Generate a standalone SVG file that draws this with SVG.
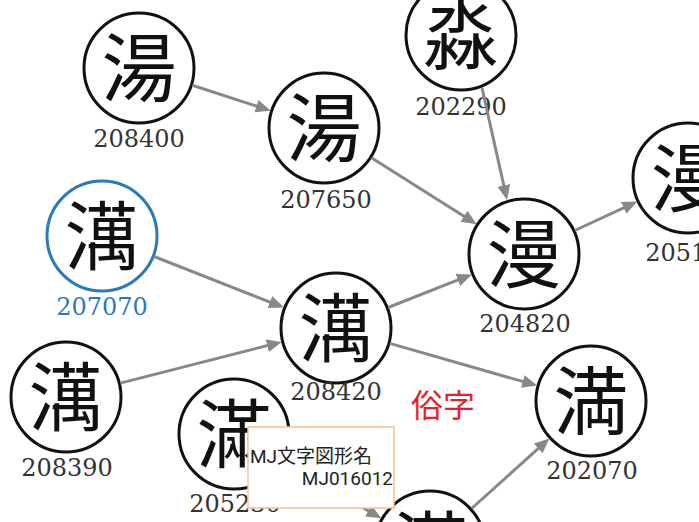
<svg xmlns="http://www.w3.org/2000/svg" width="699" height="522" viewBox="0 0 699 522">
<style>
.c{fill:#fff;stroke:#111;stroke-width:3}
.cb{fill:#fff;stroke:#2a7ab8;stroke-width:3}
.g{font-family:"Noto Sans CJK JP","Noto Sans CJK SC",sans-serif;font-size:75px;fill:#111;text-anchor:middle}
.l{font-family:"DejaVu Serif","Liberation Serif",serif;font-size:24px;fill:#333;text-anchor:middle}
.lb{fill:#2a7ab8}
.e{stroke:#888;stroke-width:3;fill:none;marker-end:url(#ah)}
.t{font-family:Roboto,"Noto Sans CJK JP",sans-serif;font-size:19px;fill:#222}
</style>
<defs>
<marker id="ah" markerUnits="userSpaceOnUse" markerWidth="16" markerHeight="14" refX="7" refY="6.5" orient="auto">
<path d="M0,0 L15,6.5 L0,13 z" fill="#888"/>
</marker>
</defs>
<rect width="699" height="522" fill="#fff"/>
<g id="nodes">
<g id="n208400"><circle class="c" cx="139" cy="68" r="55"/><text class="g" x="139" y="96">湯</text><text class="l" x="139" y="147">208400</text></g>
<g id="n207650"><circle class="c" cx="324" cy="128" r="55"/><text class="g" x="324" y="156">湯</text><text class="l" x="326" y="208">207650</text></g>
<g id="n202290"><circle class="c" cx="461" cy="35" r="55"/><text class="g" x="461" y="63">淼</text><text class="l" x="461" y="115">202290</text></g>
<g id="n204820"><circle class="c" cx="524" cy="254" r="55"/><text class="g" x="524" y="282">漫</text><text class="l" x="525" y="332">204820</text></g>
<g id="n205140"><circle class="c" cx="688" cy="178" r="55"/><text class="g" x="688" y="206">漫</text><text class="l" x="691" y="261">205140</text></g>
<g id="n207070"><circle class="cb" cx="102" cy="236" r="55"/><text class="g" x="102" y="264">澫</text><text class="l lb" x="102" y="315">207070</text></g>
<g id="n208420"><circle class="c" cx="336" cy="328" r="55"/><text class="g" x="336" y="356">澫</text><text class="l" x="336" y="400">208420</text></g>
<g id="n208390"><circle class="c" cx="66" cy="397" r="55"/><text class="g" x="66" y="425">澫</text><text class="l" x="67" y="476">208390</text></g>
<g id="n205230"><circle class="c" cx="234" cy="434" r="55"/><text class="g" x="234" y="462">滿</text><text class="l" x="235" y="512">205230</text></g>
<g id="n202070"><circle class="c" cx="591" cy="401" r="55"/><text class="g" x="591" y="429">満</text><text class="l" x="592" y="479">202070</text></g>
<g id="nbottom"><circle class="c" cx="430" cy="546" r="55"/><text class="g" x="430" y="574">滿</text></g>
</g>
<g id="connectors">
<line class="e" x1="192.3" y1="85.2" x2="263.1" y2="108.3"/>
<line class="e" x1="482" y1="88" x2="505.3" y2="192.2"/>
<line class="e" x1="371.4" y1="157.8" x2="469.9" y2="219.9"/>
<line class="e" x1="574.8" y1="230.5" x2="630" y2="204.9"/>
<line class="e" x1="154.1" y1="256.5" x2="276.4" y2="304.6"/>
<line class="e" x1="120.3" y1="383.1" x2="274" y2="343.9"/>
<line class="e" x1="388.1" y1="307.5" x2="464.4" y2="277.4"/>
<line class="e" x1="389.8" y1="343.4" x2="529.5" y2="383.4"/>
<line class="e" x1="471.6" y1="508.5" x2="543.4" y2="443.8"/>
<line class="e" x1="282.6" y1="461.8" x2="374.4" y2="514.3"/>
</g>
<text x="443" y="417" font-family="'Noto Sans CJK JP',sans-serif" font-size="32" fill="#ee1c25" text-anchor="middle">俗字</text>
<g id="tooltip">
<rect x="248" y="427" width="146" height="81" fill="#fff" stroke="#f9c08f" stroke-width="1.5"/>
<text class="t" x="250" y="463">MJ文字図形名</text>
<text class="t" x="393" y="485" text-anchor="end">MJ016012</text>
</g>
</svg>
